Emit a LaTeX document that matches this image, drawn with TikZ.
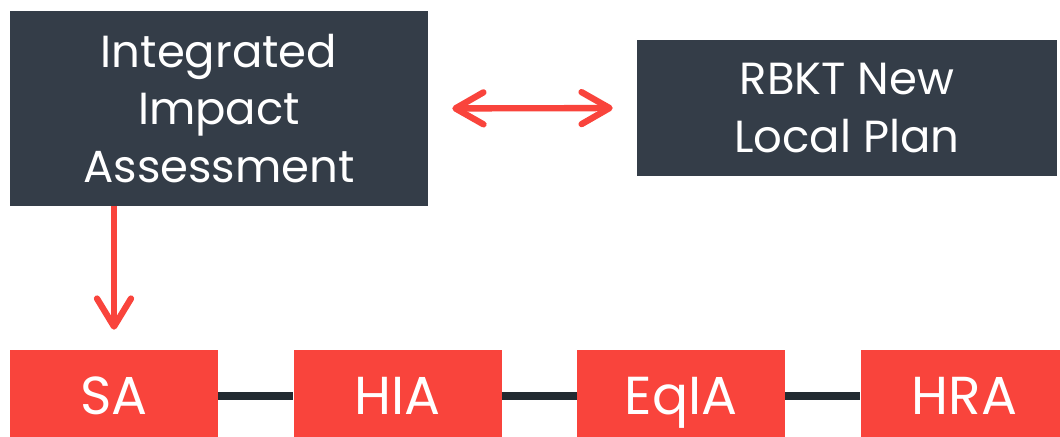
\documentclass[tikz,border=0pt]{standalone}
\usepackage{fontspec}
\setmainfont{Poppins}
\usepackage{tikz}
\usetikzlibrary{positioning,arrows.meta}
\definecolor{slate}{HTML}{343D48}
\definecolor{coral}{HTML}{F9443C}
\definecolor{ink}{HTML}{222A31}

\begin{document}
\begin{tikzpicture}[
  darkbox/.style={fill=slate, text=white, align=center, inner sep=0pt, font=\fontsize{32}{41}\selectfont},
  redbox/.style={fill=coral, text=white, minimum width=5.2cm, minimum height=2.3cm, inner sep=0pt, text height=0.95cm, text depth=0pt, font=\fontsize{38}{44}\selectfont},
  redarrow/.style={draw=coral, line width=4.5pt},
  link/.style={draw=ink, line width=5pt},
  node distance=1.875cm
]
\useasboundingbox (0,0) rectangle (26.5,10.925);
% top row
\node[darkbox, minimum width=10.45cm, minimum height=4.875cm] (iia) at (5.475,8.2125) {Integrated\\Impact\\Assessment};
\node[darkbox, minimum width=10.5cm, minimum height=3.4cm] (plan) at (21.175,8.225) {RBKT New\\Local Plan};
% assessments
\node[redbox] (sa) at (2.85,1.025) {SA};
\node[redbox, right=of sa] (hia) {HIA};
\node[redbox, right=of hia] (eqia) {EqIA};
\node[redbox, right=of eqia] (hra) {HRA};
\draw[link] (sa.east) -- (hia.west);
\draw[link] (hia.east) -- (eqia.west);
\draw[link] (eqia.east) -- (hra.west);
% arrows
\draw[redarrow, {Straight Barb[length=0.7cm, width=0.8cm, round]}-{Straight Barb[length=0.7cm, width=0.8cm, round]}, shorten <=0.6cm, shorten >=0.6cm] (iia.east) -- (plan.west);
\draw[redarrow, -{Straight Barb[length=0.7cm, width=0.85cm, round]}, shorten >=0.5cm] (iia.south -| sa) -- (sa.north);
\end{tikzpicture}
\end{document}
